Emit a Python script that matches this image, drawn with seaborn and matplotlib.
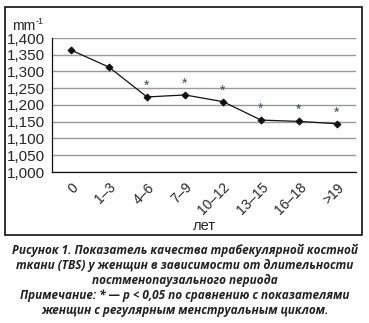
import matplotlib
matplotlib.use("Agg")
import matplotlib.pyplot as plt
import seaborn as sns
import pandas as pd
from matplotlib.patches import Rectangle
from matplotlib.ticker import FuncFormatter, MultipleLocator

categories = ["0", "1–3", "4–6", "7–9", "10–12", "13–15", "16–18", ">19"]
tbs_values = [1.364, 1.313, 1.224, 1.230, 1.210, 1.155, 1.151, 1.144]
significant = [False, False, True, True, True, True, True, True]

sns.set_style("white")
plt.rcParams['font.family'] = ['Liberation Sans', 'DejaVu Sans']

fig = plt.figure(figsize=(3.69, 3.23), dpi=100)
ax = fig.add_axes([52/369, 1-172/323, (356-52)/369, (172-38)/323])

df = pd.DataFrame({"cat": categories, "val": tbs_values})
sns.lineplot(data=df, x="cat", y="val", ax=ax, color="#111111", linewidth=0.9,
             marker="D", markersize=3.5, markeredgecolor="#111111", sort=False)

for i, (v, s) in enumerate(zip(tbs_values, significant)):
    if s:
        ax.annotate("*", (i, v), xytext=(0, 3), textcoords="offset points",
                    ha="center", va="bottom", fontsize=10, color="#3d4a58")

ax.set_xlim(-0.5, len(categories) - 0.5)
ax.set_ylim(1.0, 1.4)
ax.yaxis.set_major_locator(MultipleLocator(0.05))
ax.yaxis.set_major_formatter(FuncFormatter(lambda v, p: f"{v:.3f}".replace(".", ",")))
ax.grid(axis="y", color="#999999", linewidth=1.0)
ax.set_axisbelow(True)
for sp in ["top", "right"]:
    ax.spines[sp].set_visible(False)
for sp in ["left", "bottom"]:
    ax.spines[sp].set_color("#111111")
    ax.spines[sp].set_linewidth(0.9)

ax.set_xticks(range(len(categories)))
ax.set_xticklabels(categories, rotation=45, ha="right", va="top", rotation_mode="anchor", fontsize=10)
ax.tick_params(axis="x", length=0, pad=6)
ax.set_xticks([i + 0.5 for i in range(-1, len(categories))], minor=True)
ax.tick_params(axis="x", which="minor", length=3, color="#555555", width=0.8)
ax.tick_params(axis="y", length=3, width=0.9, color="#111111", labelsize=11, pad=2)
ax.set_xlabel("лет", fontsize=10.5, labelpad=1)
ax.set_ylabel("")

mm = fig.text(12/369, 1-26/323, "mm", fontsize=10, ha="left", va="center")
ax.annotate("-1", xy=(1, 0.85), xycoords=mm, xytext=(0.5, 0), textcoords="offset points",
            ha="left", va="center", fontsize=6.5, annotation_clip=False)

fig.patches.append(Rectangle((5/369, 1-235/323), 357/369, 228/323, transform=fig.transFigure,
                             fill=False, edgecolor="#111111", linewidth=1.2))

caption = ("Рисунок 1. Показатель качества трабекулярной костной\n"
           "ткани (TBS) у женщин в зависимости от длительности\n"
           "постменопаузального периода\n"
           "Примечание: * — p < 0,05 по сравнению с показателями\n"
           "женщин с регулярным менструальным циклом.")
fig.text(0.5, 1-244/323, caption, ha="center", va="top", fontsize=8.5,
         fontweight="bold", fontstyle="italic", color="#222222",
         family=["Open Sans", "DejaVu Sans"], linespacing=1.2)

fig.savefig("out.png", dpi=100)
